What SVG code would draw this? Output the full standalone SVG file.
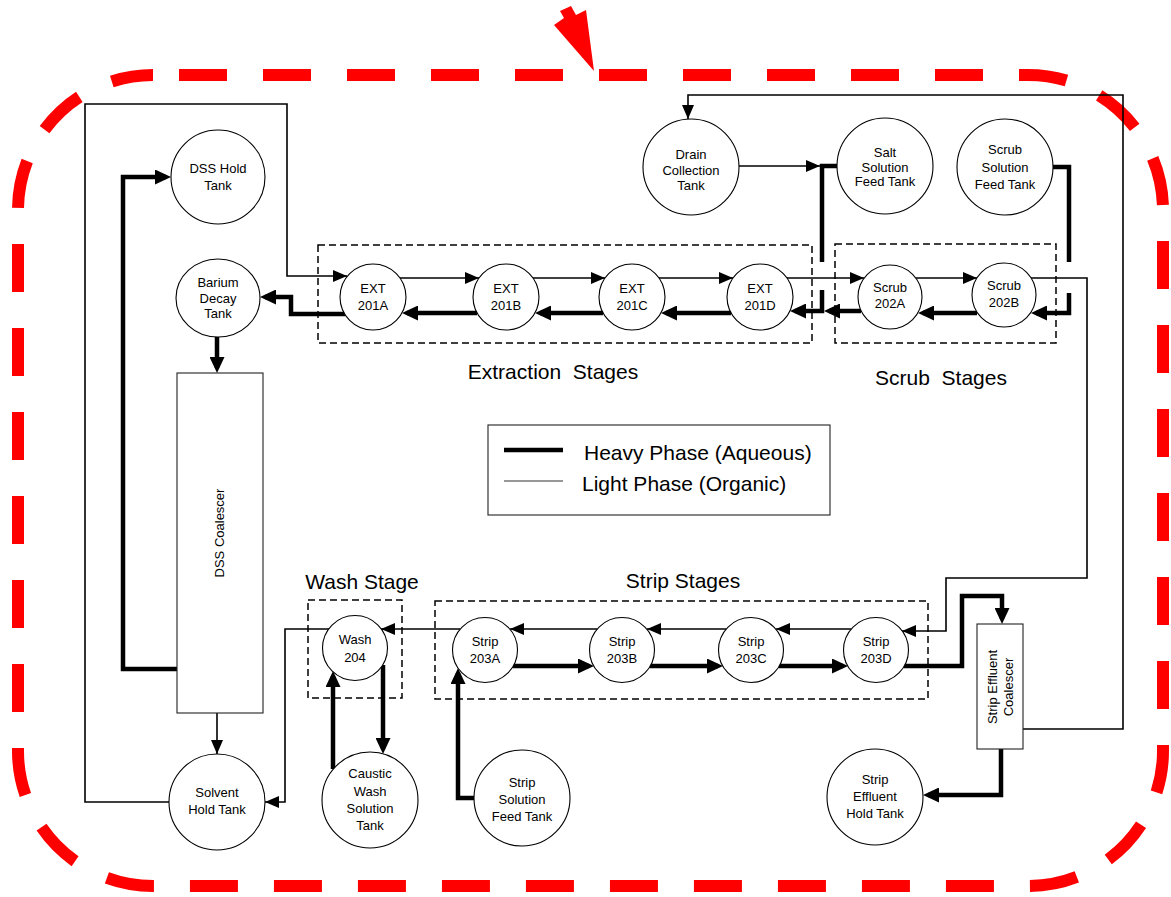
<svg xmlns="http://www.w3.org/2000/svg" width="1171" height="897" viewBox="0 0 1171 897">
<style>
.nd{fill:#fff;stroke:#000;stroke-width:1.1}
.bx{fill:#fff;stroke:#222;stroke-width:1.1}
.t{font-family:"Liberation Sans",Arial,sans-serif;font-size:13px;text-anchor:middle;fill:#000}
.big{font-family:"Liberation Sans",Arial,sans-serif;font-size:21px;fill:#000;white-space:pre}
.thin{fill:none;stroke:#000;stroke-width:1.6;marker-end:url(#at)}
.thick{fill:none;stroke:#000;stroke-width:4.5;marker-end:url(#ak)}
.plain{marker-end:none}
.grp{fill:none;stroke:#000;stroke-width:1.5;stroke-dasharray:7 4}
</style>
<defs>
<marker id="at" viewBox="0 0 14 12" refX="14" refY="6" markerWidth="14" markerHeight="12" markerUnits="userSpaceOnUse" orient="auto"><path d="M0,0L14,6L0,12z" fill="#000"/></marker>
<marker id="ak" viewBox="0 0 16 15" refX="11" refY="7.5" markerWidth="16" markerHeight="15" markerUnits="userSpaceOnUse" orient="auto"><path d="M0,0L16,7.5L0,15z" fill="#000"/></marker>
</defs>
<rect width="1171" height="897" fill="#fff"/>

<g id="boundary">
<rect x="18" y="75" width="1145" height="811" rx="135" ry="135" fill="none" stroke="#ff0000" stroke-width="12" stroke-dasharray="48 36" stroke-dashoffset="-26"/>
<polygon points="560,11 571,6 576,15 586,10 594,71 554,25 564,18" fill="#ff0000"/>
</g>

<g id="stage-boxes">
<rect id="extraction-box" class="grp" x="318" y="245" width="494" height="98"/>
<rect id="scrub-box" class="grp" x="835" y="244" width="221" height="99"/>
<rect id="wash-box" class="grp" x="308" y="600" width="94" height="98"/>
<rect id="strip-box" class="grp" x="435" y="601" width="493" height="98"/>
<text class="big" x="553" y="379" text-anchor="middle">Extraction  Stages</text>
<text class="big" x="941" y="385" text-anchor="middle">Scrub  Stages</text>
<text class="big" x="362" y="589" text-anchor="middle">Wash Stage</text>
<text class="big" x="683" y="588" text-anchor="middle">Strip Stages</text>
</g>

<g id="legend">
<rect x="488" y="425" width="342" height="90" fill="#fff" stroke="#222" stroke-width="1.1"/>
<path d="M504,450H563" stroke="#000" stroke-width="4.5"/>
<path d="M504,481H563" stroke="#333" stroke-width="1.1"/>
<text class="big" x="584" y="460">Heavy Phase (Aqueous)</text>
<text class="big" x="582" y="491">Light Phase (Organic)</text>
</g>

<g id="connectors">
<!-- light phase (organic) -->
<path class="thin" d="M169,802H85V104H287V276H347"/>
<path class="thin" d="M400,278H479"/>
<path class="thin" d="M533,278H605"/>
<path class="thin" d="M659,278H733"/>
<path class="thin" d="M787,278H864"/>
<path class="thin" d="M916,278H977"/>
<path class="thin" d="M1031,278H1087V578H946V631H902"/>
<path class="thin" d="M851,629H776"/>
<path class="thin" d="M726,629H647"/>
<path class="thin" d="M597,629H510"/>
<path class="thin" d="M460,629H381"/>
<path class="thin" d="M329,629H285V802H265"/>
<path class="thin" d="M217,713V754"/>
<path class="thin" d="M1023,729H1123V95H688V119"/>
<path class="thin" d="M739,166H820"/>
<!-- heavy phase (aqueous) -->
<path class="thick" d="M177,669H123V177H166"/>
<path class="thick" d="M345,314H291V297H265"/>
<path class="thick" d="M217,337V368"/>
<path class="thick" d="M477,313H407"/>
<path class="thick" d="M603,313H540"/>
<path class="thick" d="M731,313H666"/>
<path class="thick plain" d="M837,166H822V262"/>
<path class="thick" d="M822,290V311H795"/>
<path class="thick" d="M861,311H829"/>
<path class="thick" d="M977,313H923"/>
<path class="thick plain" d="M1053,167H1069V262"/>
<path class="thick" d="M1069,293V313H1036"/>
<path class="thick" d="M383,665V749"/>
<path class="thick" d="M333,769V676"/>
<path class="thick" d="M474,798H458V673"/>
<path class="thick" d="M513,666H589"/>
<path class="thick" d="M650,666H718"/>
<path class="thick" d="M779,666H843"/>
<path class="thick" d="M904,666H962V596H1002V619"/>
<path class="thick" d="M1001,749V795H928"/>
</g>

<g id="dss-hold-tank"><circle class="nd" cx="218" cy="177" r="47"/><text class="t" x="218" y="173">DSS Hold</text><text class="t" x="218" y="190">Tank</text></g>
<g id="barium-decay-tank"><ellipse class="nd" cx="218" cy="298" rx="42" ry="39"/><text class="t" x="218" y="287">Barium</text><text class="t" x="218" y="303">Decay</text><text class="t" x="218" y="318">Tank</text></g>
<g id="dss-coalescer"><rect class="bx" x="177" y="373" width="86" height="340"/><text class="t" font-size="12" transform="translate(220,533) rotate(-90)" x="0" y="4">DSS Coalescer</text></g>
<g id="solvent-hold-tank"><circle class="nd" cx="217" cy="802" r="48"/><text class="t" x="217" y="797">Solvent</text><text class="t" x="217" y="814">Hold Tank</text></g>

<g id="ext-201a"><circle class="nd" cx="373" cy="297" r="33"/><text class="t" x="373" y="293">EXT</text><text class="t" x="373" y="310">201A</text></g>
<g id="ext-201b"><circle class="nd" cx="506" cy="297" r="33"/><text class="t" x="506" y="293">EXT</text><text class="t" x="506" y="310">201B</text></g>
<g id="ext-201c"><circle class="nd" cx="632" cy="297" r="33"/><text class="t" x="632" y="293">EXT</text><text class="t" x="632" y="310">201C</text></g>
<g id="ext-201d"><circle class="nd" cx="760" cy="297" r="33"/><text class="t" x="760" y="293">EXT</text><text class="t" x="760" y="310">201D</text></g>
<g id="scrub-202a"><circle class="nd" cx="890" cy="297" r="32"/><text class="t" x="890" y="292">Scrub</text><text class="t" x="890" y="308">202A</text></g>
<g id="scrub-202b"><circle class="nd" cx="1004" cy="295" r="32"/><text class="t" x="1004" y="290">Scrub</text><text class="t" x="1004" y="307">202B</text></g>

<g id="drain-collection-tank"><circle class="nd" cx="691" cy="167" r="48"/><text class="t" x="691" y="159">Drain</text><text class="t" x="691" y="175">Collection</text><text class="t" x="691" y="190">Tank</text></g>
<g id="salt-solution-feed-tank"><circle class="nd" cx="885" cy="166" r="48"/><text class="t" x="885" y="157">Salt</text><text class="t" x="885" y="172">Solution</text><text class="t" x="885" y="186">Feed Tank</text></g>
<g id="scrub-solution-feed-tank"><circle class="nd" cx="1005" cy="167" r="48"/><text class="t" x="1005" y="154">Scrub</text><text class="t" x="1005" y="172">Solution</text><text class="t" x="1005" y="189">Feed Tank</text></g>

<g id="wash-204"><circle class="nd" cx="355" cy="648" r="32.5"/><text class="t" x="355" y="644">Wash</text><text class="t" x="355" y="662">204</text></g>
<g id="caustic-wash-solution-tank"><circle class="nd" cx="370" cy="800" r="48"/><text class="t" x="370" y="778">Caustic</text><text class="t" x="370" y="796">Wash</text><text class="t" x="370" y="813">Solution</text><text class="t" x="370" y="830">Tank</text></g>

<g id="strip-203a"><circle class="nd" cx="485" cy="650" r="32.5"/><text class="t" x="485" y="646">Strip</text><text class="t" x="485" y="663">203A</text></g>
<g id="strip-203b"><circle class="nd" cx="622" cy="650" r="32.5"/><text class="t" x="622" y="646">Strip</text><text class="t" x="622" y="663">203B</text></g>
<g id="strip-203c"><circle class="nd" cx="751" cy="650" r="32.5"/><text class="t" x="751" y="646">Strip</text><text class="t" x="751" y="663">203C</text></g>
<g id="strip-203d"><circle class="nd" cx="876" cy="650" r="32.5"/><text class="t" x="876" y="646">Strip</text><text class="t" x="876" y="663">203D</text></g>
<g id="strip-solution-feed-tank"><circle class="nd" cx="522" cy="798" r="48"/><text class="t" x="522" y="787">Strip</text><text class="t" x="522" y="804">Solution</text><text class="t" x="522" y="821">Feed Tank</text></g>
<g id="strip-effluent-hold-tank"><circle class="nd" cx="875" cy="797" r="48"/><text class="t" x="875" y="784">Strip</text><text class="t" x="875" y="801">Effluent</text><text class="t" x="875" y="818">Hold Tank</text></g>
<g id="strip-effluent-coalescer"><rect class="bx" x="977" y="624" width="46" height="125"/><text class="t" transform="translate(1000,687) rotate(-90)"><tspan x="0" y="-3">Strip Effluent</tspan><tspan x="0" y="13">Coalescer</tspan></text></g>
</svg>
